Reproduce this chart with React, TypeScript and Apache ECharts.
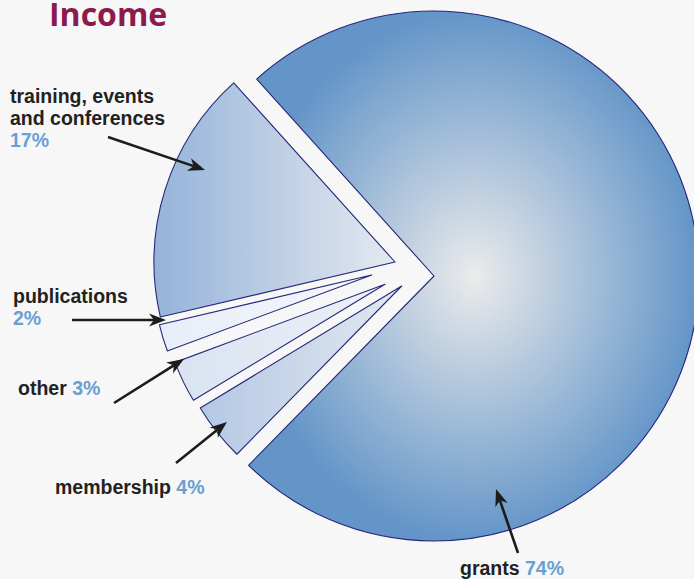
import React, { useEffect, useRef } from 'react';
import * as echarts from 'echarts';

// ---- data ----
const categories = ['grants', 'membership', 'other', 'publications', 'training, events and conferences'];
const values = [74, 4, 3, 2, 17];
const labelLines = [['grants'], ['membership'], ['other'], ['publications'], ['training, events', 'and conferences']];
const pctOwnLine = [false, false, false, true, true];
const titleText = 'Income';

// ---- layout / style ----
const START_ANGLE = 132;
const sliceCenters: [number, number][] = [[434, 276], [401.7, 286], [385, 284.3], [371.7, 275], [395, 262]];
const sliceRadii = [265, 235.5, 224, 218, 241];
const linear = (a: string, b: string) => ({
  type: 'linear', x: 0, y: 0, x2: 1, y2: 0,
  colorStops: [{ offset: 0, color: a }, { offset: 1, color: b }],
});
const sliceFills: any[] = [
  { type: 'radial', x: 0.5, y: 0.5, r: 0.5, colorStops: [{ offset: 0, color: '#ebebeb' }, { offset: 1, color: '#6395c8' }] },
  linear('#b3c8e4', '#e3e8f0'),
  linear('#d9e3f1', '#eef1f6'),
  linear('#e8eef8', '#f4f6fa'),
  linear('#95b3d9', '#e4e9f0'),
];
const labelPos: [number, number][] = [[460, 567.5], [55, 487], [18, 388], [13, 296], [10, 96]];
const arrows: [number, number][][] = [
  [[518, 553], [496, 489]],
  [[176, 463], [227, 422]],
  [[114, 403], [184, 359]],
  [[72, 320], [166, 320]],
  [[108, 137], [205, 170]],
];
const TITLE_FONT = '"Open Sans", "DejaVu Sans", sans-serif';
const FONT = '"Liberation Sans", Arial, sans-serif';
const LABEL_SIZE = 19.5;
const LINE_H = 22;

function arrowElements(s: [number, number], t: [number, number]) {
  const dx = t[0] - s[0], dy = t[1] - s[1];
  const len = Math.hypot(dx, dy);
  const ux = dx / len, uy = dy / len;
  const nx = -uy, ny = ux;
  const L = 17, W = 6.5, notch = 5;
  const bx = t[0] - ux * L, by = t[1] - uy * L;
  const mx = t[0] - ux * (L - notch), my = t[1] - uy * (L - notch);
  return [
    { type: 'line', z: 100, silent: true, shape: { x1: s[0], y1: s[1], x2: mx, y2: my }, style: { stroke: '#1c1c1c', lineWidth: 2.6 } },
    {
      type: 'polygon', z: 100, silent: true,
      shape: { points: [[t[0], t[1]], [bx + nx * W, by + ny * W], [mx, my], [bx - nx * W, by - ny * W]] },
      style: { fill: '#1c1c1c' },
    },
  ];
}

export default function App() {
  const ref = useRef<HTMLDivElement>(null);
  useEffect(() => {
    if (!ref.current) return;
    const chart = echarts.init(ref.current, undefined, { renderer: 'svg' });

    const series = categories.map((_, i) => ({
      type: 'pie',
      center: sliceCenters[i],
      radius: sliceRadii[i],
      startAngle: START_ANGLE,
      clockwise: true,
      silent: true,
      z: 2,
      avoidLabelOverlap: false,
      label: { show: false },
      labelLine: { show: false },
      emphasis: { disabled: true },
      data: categories.map((c, j) => ({
        name: c,
        value: values[j],
        itemStyle: j === i
          ? { color: sliceFills[i], borderColor: '#27267a', borderWidth: 1.1 }
          : { color: 'rgba(0,0,0,0)', borderWidth: 0 },
      })),
    }));

    const graphics: any[] = [];
    graphics.push({
      type: 'text', x: 49, y: 13, z: 100, silent: true,
      style: { text: titleText, fill: '#8c1a4b', fontFamily: TITLE_FONT, fontSize: 32, fontWeight: 'bold', verticalAlign: 'middle', lineHeight: 26 },
    });
    const rich = {
      n: { fill: '#222222', fontFamily: FONT, fontSize: LABEL_SIZE, fontWeight: 'bold', lineHeight: LABEL_SIZE },
      p: { fill: '#6a9fd4', fontFamily: FONT, fontSize: LABEL_SIZE, fontWeight: 'bold', lineHeight: LABEL_SIZE },
    };
    categories.forEach((_, i) => {
      const lines = labelLines[i].map((l) => `{n|${l}}`);
      const pct = `{p|${values[i]}%}`;
      if (pctOwnLine[i]) lines.push(pct);
      else lines[lines.length - 1] = `{n|${labelLines[i][labelLines[i].length - 1]} }${pct}`;
      lines.forEach((ln, k) => {
        graphics.push({
          type: 'text', x: labelPos[i][0], y: labelPos[i][1] + k * LINE_H, z: 100, silent: true,
          style: { text: ln, rich, verticalAlign: 'middle', align: 'left', fontFamily: FONT, fontSize: LABEL_SIZE, lineHeight: LABEL_SIZE },
        });
      });
      graphics.push(...arrowElements(arrows[i][0], arrows[i][1]));
    });

    chart.setOption({
      animation: false,
      backgroundColor: '#f7f7f7',
      series,
      graphic: { elements: graphics },
    });
    return () => chart.dispose();
  }, []);
  return <div ref={ref} style={{ position: 'fixed', left: 0, top: 0, width: 694, height: 579 }} />;
}
